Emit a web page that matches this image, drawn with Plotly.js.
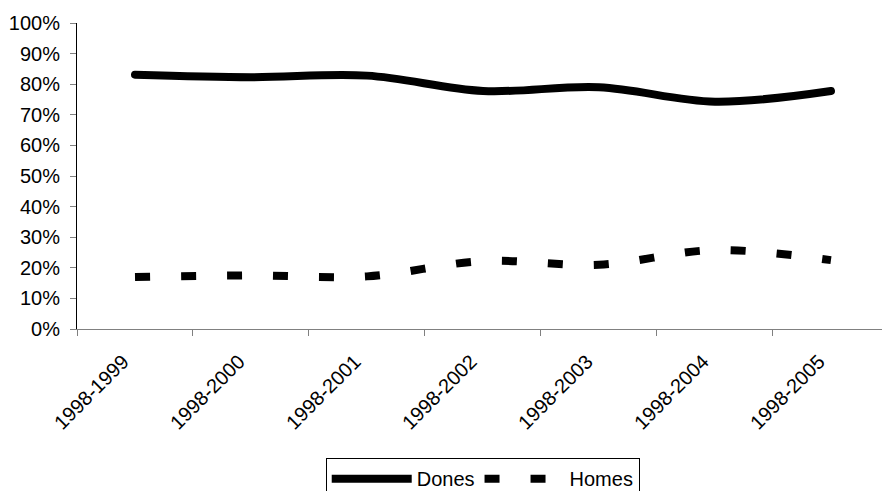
<!DOCTYPE html>
<html>
<head>
<meta charset="utf-8">
<script src="https://cdn.plot.ly/plotly-3.0.1.min.js"></script>
<style>
html, body { margin: 0; padding: 0; overflow: hidden; background: #fff; width: 882px; height: 491px; }
#chart { width: 882px; height: 510px; }
</style>
</head>
<body>
<div id="chart"></div>
<script>
const categories = ["1998-1999", "1998-2000", "1998-2001", "1998-2002", "1998-2003", "1998-2004", "1998-2005"];
const dones = [0.831, 0.823, 0.828, 0.778, 0.790, 0.743, 0.778];
const homes = [0.170, 0.175, 0.172, 0.222, 0.210, 0.258, 0.225];
const seriesNames = ["Dones", "Homes"];

const fontFamily = '"Liberation Sans", Arial, sans-serif';

const traces = [
  {
    x: categories, y: dones, name: seriesNames[0], type: 'scatter', mode: 'lines',
    line: { color: '#000000', width: 8, shape: 'spline', smoothing: 1 }
  },
  {
    x: categories, y: homes, name: seriesNames[1], type: 'scatter', mode: 'lines',
    line: { color: '#000000', width: 8, shape: 'spline', smoothing: 1, dash: '15px,31px' }
  }
];

const layout = {
  width: 882, height: 510,
  margin: { l: 77, r: 0, t: 23, b: 181 },
  paper_bgcolor: '#ffffff', plot_bgcolor: '#ffffff',
  font: { family: fontFamily, size: 20, color: '#000000' },
  showlegend: true,
  legend: {
    orientation: 'h', x: 0.504, xanchor: 'center', y: -0.422, yanchor: 'top',
    bordercolor: '#000000', borderwidth: 1, bgcolor: '#ffffff',
    font: { family: fontFamily, size: 20, color: '#000000' },
    itemwidth: 80, tracegroupgap: 0
  },
  xaxis: {
    type: 'category', range: [-0.5, 6.44], tickson: 'boundaries',
    showline: true, linecolor: '#808080', linewidth: 1,
    ticks: 'outside', ticklen: 6, tickcolor: '#808080', tickwidth: 1,
    tickangle: -45, showgrid: false, zeroline: false,
    ticklabelshift: -12, ticklabelstandoff: 12,
    tickfont: { family: fontFamily, size: 20, color: '#000000' }
  },
  yaxis: {
    range: [0, 1], dtick: 0.1, tick0: 0, tickformat: '.0%',
    showline: true, linecolor: '#000000', linewidth: 1,
    ticks: 'outside', ticklen: 6, tickcolor: '#808080', tickwidth: 1,
    showgrid: false, zeroline: false, ticklabelstandoff: 6,
    tickfont: { family: fontFamily, size: 20, color: '#000000' }
  }
};

Plotly.newPlot('chart', traces, layout, { displayModeBar: false, staticPlot: true }).then(() => {
  const tr = document.querySelectorAll('.scatterlayer .trace');
  if (tr[0]) tr[0].querySelectorAll('path.js-line').forEach(p => p.style.strokeLinecap = 'round');
});
</script>
</body>
</html>
